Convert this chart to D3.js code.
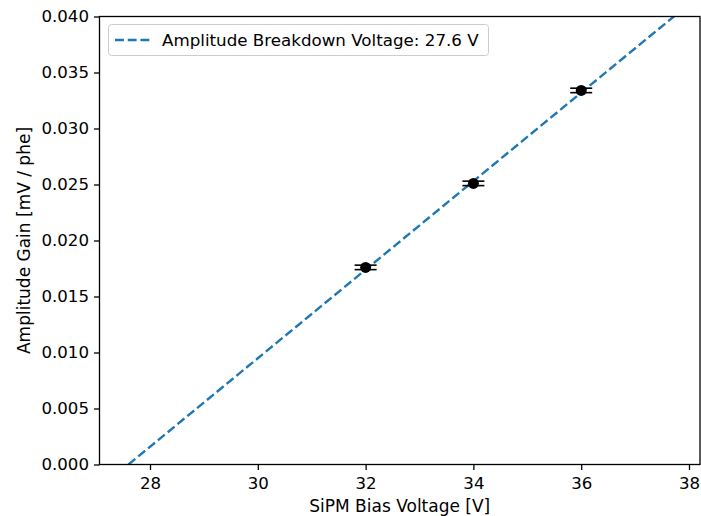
<!DOCTYPE html>
<html><head><meta charset="utf-8">
<script src="https://cdn.jsdelivr.net/npm/d3@7"></script>
<style>body{margin:0;background:#fff}svg{display:block}text{font-family:"DejaVu Sans",sans-serif}</style>
</head><body><svg id="c" width="701" height="516"></svg>
<script>
const voltages = [32, 34, 36];
const gains = [0.0176, 0.0251, 0.0334];
const gainErrors = [0.0002, 0.0002, 0.0002];
const breakdownVoltage = 27.6;
const fitSlope = 0.003953;
const xTicks = [28, 30, 32, 34, 36, 38];
const yTicks = [0, 0.005, 0.010, 0.015, 0.020, 0.025, 0.030, 0.035, 0.040];
const legendLabel = "Amplitude Breakdown Voltage: 27.6 V";

const svg = d3.select("#c");
const L = 99.5, R = 700, T = 16.5, B = 464.5;
const x = d3.scaleLinear().domain([27.063, 38.204]).range([L, R]);
const y = d3.scaleLinear().domain([0, 0.04]).range([B, T]);

svg.append("defs").append("clipPath").attr("id","clip")
  .append("rect").attr("x",L).attr("y",T).attr("width",R-L).attr("height",B-T);

// fit line
const fitX = [breakdownVoltage, 38.5];
svg.append("line").attr("clip-path","url(#clip)")
  .attr("x1", x(fitX[0])).attr("y1", y(0))
  .attr("x2", x(fitX[1])).attr("y2", y(fitSlope*(fitX[1]-breakdownVoltage)))
  .attr("stroke","#1f77b4").attr("stroke-width",2.4).attr("stroke-dasharray","8.9,3.8");

// error bars
const g = svg.append("g");
voltages.forEach((v,i)=>{
  const cx = x(v);
  g.append("line").attr("x1",cx).attr("x2",cx).attr("y1",y(gains[i]-gainErrors[i])).attr("y2",y(gains[i]+gainErrors[i])).attr("stroke","#000").attr("stroke-width",1.6);
  [gains[i]-gainErrors[i], gains[i]+gainErrors[i]].forEach(e=>{
    g.append("line").attr("x1",cx-11).attr("x2",cx+11).attr("y1",y(e)).attr("y2",y(e)).attr("stroke","#000").attr("stroke-width",1.6);
  });
  g.append("circle").attr("cx",cx).attr("cy",y(gains[i])).attr("r",5.5).attr("fill","#000");
});

// axes
const xa = svg.append("g").attr("transform",`translate(0,${B})`)
  .call(d3.axisBottom(x).tickValues(xTicks).tickSize(5.5).tickPadding(7).tickFormat(d3.format("d")));
const ya = svg.append("g").attr("transform",`translate(${L},0)`)
  .call(d3.axisLeft(y).tickValues(yTicks).tickSize(5.5).tickPadding(5).tickFormat(d3.format(".3f")));
[xa,ya].forEach(a=>{
  a.select(".domain").remove();
  a.selectAll("line").attr("stroke","#000").attr("stroke-width",1.3);
  a.selectAll("text").attr("font-size",16.6).attr("fill","#000").attr("font-family","DejaVu Sans");
});
// spines
svg.append("rect").attr("x",L).attr("y",T).attr("width",R-L).attr("height",B-T)
  .attr("fill","none").attr("stroke","#000").attr("stroke-width",1.3);

// labels
svg.append("text").attr("x",(L+R)/2).attr("y",512).attr("text-anchor","middle").attr("font-size",17).text("SiPM Bias Voltage [V]");
svg.append("text").attr("transform",`translate(30,${(T+B)/2}) rotate(-90)`).attr("text-anchor","middle").attr("font-size",17).text("Amplitude Gain [mV / phe]");

// legend
const lg = svg.append("g");
lg.append("rect").attr("x",108.5).attr("y",24.5).attr("width",380).attr("height",31).attr("rx",3)
  .attr("fill","#fff").attr("fill-opacity",0.8).attr("stroke","#ccc").attr("stroke-width",1);
lg.append("line").attr("x1",115).attr("x2",150).attr("y1",40).attr("y2",40)
  .attr("stroke","#1f77b4").attr("stroke-width",2.4).attr("stroke-dasharray","8.9,3.8");
lg.append("text").attr("x",162).attr("y",46).attr("font-size",16.7).text(legendLabel);
</script></body></html>
